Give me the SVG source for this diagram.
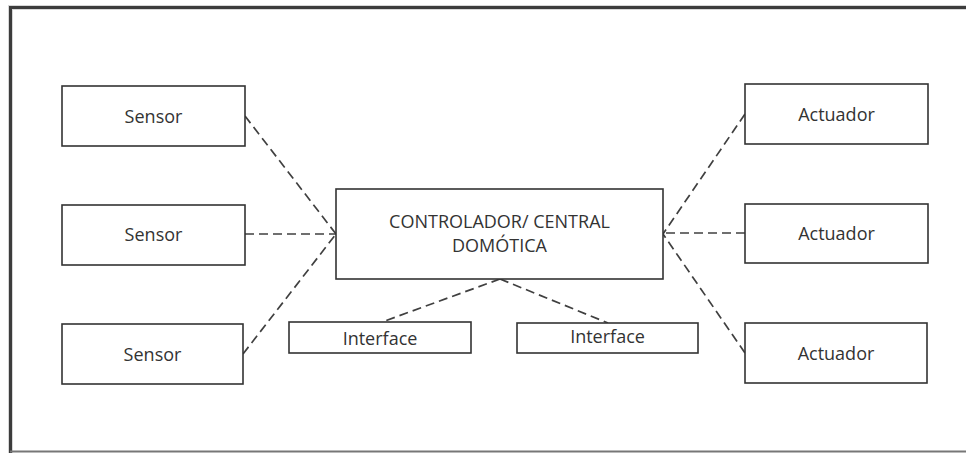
<svg xmlns="http://www.w3.org/2000/svg" width="966" height="453" viewBox="0 0 966 453">
  <style>
    .box { fill: #ffffff; stroke: #333333; stroke-width: 1.6; }
    .lbl { font-family: "Open Sans", "Noto Sans", sans-serif; font-size: 18px; fill: #333333; text-anchor: middle; dominant-baseline: central; }
    .link { stroke: #404040; stroke-width: 1.7; stroke-dasharray: 9 5; fill: none; }
  </style>
  <rect x="0" y="0" width="966" height="453" fill="#ffffff"/>
  <!-- frame -->
  <path d="M10.5 453 V7.5 H966" fill="none" stroke="#9a9a9a" stroke-width="5" opacity="0.4"/>
  <path d="M10.5 453 V7.5 H966" fill="none" stroke="#3c3c3c" stroke-width="3"/>
  <line x1="10" y1="451.5" x2="966" y2="451.5" stroke="#777777" stroke-width="2"/>

  <g id="connectors">
    <line class="link" x1="245" y1="116" x2="336" y2="234"/>
    <line class="link" x1="245" y1="234" x2="336" y2="234"/>
    <line class="link" x1="243" y1="354" x2="336" y2="234"/>
    <line class="link" x1="745" y1="114" x2="663" y2="234"/>
    <line class="link" x1="745" y1="233" x2="663" y2="233"/>
    <line class="link" x1="745" y1="353" x2="663" y2="234"/>
    <line class="link" x1="500" y1="279" x2="382" y2="322"/>
    <line class="link" x1="500" y1="279" x2="608" y2="323"/>
  </g>

  <g id="sensor1">
    <rect class="box" x="62" y="86" width="183" height="60"/>
    <text class="lbl" x="153.5" y="116">Sensor</text>
  </g>
  <g id="sensor2">
    <rect class="box" x="62" y="205" width="183" height="60"/>
    <text class="lbl" x="153.5" y="234">Sensor</text>
  </g>
  <g id="sensor3">
    <rect class="box" x="62" y="324" width="181" height="60"/>
    <text class="lbl" x="152.5" y="354">Sensor</text>
  </g>

  <g id="actuador1">
    <rect class="box" x="745" y="84" width="183" height="60"/>
    <text class="lbl" x="836.5" y="114">Actuador</text>
  </g>
  <g id="actuador2">
    <rect class="box" x="745" y="204" width="183" height="59"/>
    <text class="lbl" x="836.5" y="233">Actuador</text>
  </g>
  <g id="actuador3">
    <rect class="box" x="745" y="323" width="182" height="60"/>
    <text class="lbl" x="836" y="353">Actuador</text>
  </g>

  <g id="controlador">
    <rect class="box" x="336" y="189" width="327" height="90"/>
    <text class="lbl" x="499.5" y="221">CONTROLADOR/ CENTRAL</text>
    <text class="lbl" x="499.5" y="245">DOMÓTICA</text>
  </g>

  <g id="interface1">
    <rect class="box" x="289" y="322" width="182" height="31"/>
    <text class="lbl" x="380" y="338">Interface</text>
  </g>
  <g id="interface2">
    <rect class="box" x="517" y="323" width="181" height="30"/>
    <text class="lbl" x="607.5" y="336">Interface</text>
  </g>
</svg>
